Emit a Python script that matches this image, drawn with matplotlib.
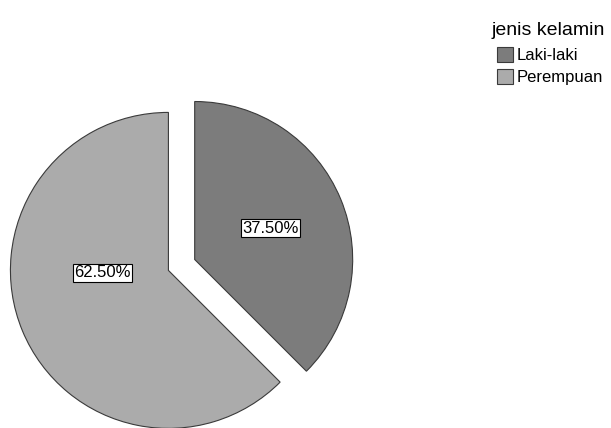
import matplotlib.pyplot as plt

# data
labels = ["Laki-laki", "Perempuan"]
values = [37.5, 62.5]
colors = ["#7c7c7c", "#ababab"]

plt.rcParams['font.family'] = ['Liberation Sans', 'DejaVu Sans']

fig = plt.figure(figsize=(6.11, 4.28), dpi=100)
ax = fig.add_axes([0, 0, 1, 1])

wedges, texts, autotexts = ax.pie(
    values, colors=colors, startangle=90, counterclock=False,
    explode=[0.09, 0.09], autopct='%.2f%%', pctdistance=0.52,
    wedgeprops=dict(edgecolor='#3a3a3a', linewidth=0.8),
    textprops=dict(fontsize=12, color='black'))

for t in autotexts:
    t.set_bbox(dict(facecolor='white', edgecolor='black', linewidth=0.8, pad=0.08, boxstyle='square'))
# label of the big slice sits a bit more to the left in the original
autotexts[1].set_position((-0.5, -0.05))

ax.set_xlim(-1.149, 2.718)
ax.set_ylim(-1.032, 1.677)
ax.axis('off')

fig.text(0.805, 0.918, "jenis kelamin", fontsize=14, ha='left', va='baseline')
leg = fig.legend(wedges, labels, loc='upper left',
                 bbox_to_anchor=(0.8134, 0.89), frameon=False,
                 fontsize=12, handlelength=0.96, handleheight=0.96,
                 handletextpad=0.2, labelspacing=0.36, borderpad=0, borderaxespad=0)

fig.savefig("out.png", dpi=100)
